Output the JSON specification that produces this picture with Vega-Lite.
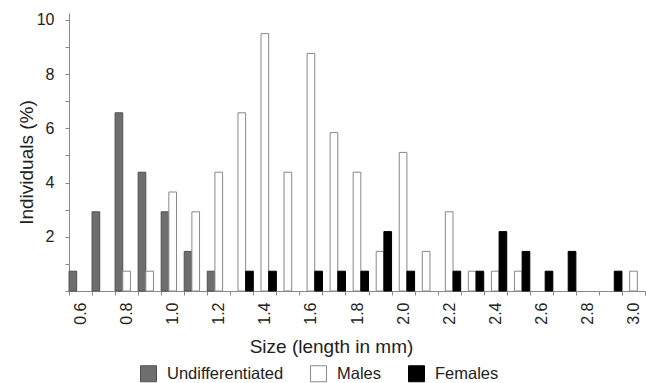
{
  "$schema": "https://vega.github.io/schema/vega-lite/v6.json",
  "autosize": "none",
  "padding": {"left": 69, "top": 13, "right": 1, "bottom": 92},
  "width": 576,
  "height": 278,
  "config": {
    "font": "Liberation Sans",
    "view": {"stroke": null},
    "axis": {"labelColor": "#222", "titleColor": "#222", "titleFontWeight": "normal", "domainColor": "#888", "tickColor": "#888", "grid": false}
  },
  "data": {
    "values": [
      {"series": "Undifferentiated", "size": "0.6", "value": 0.73},
      {"series": "Undifferentiated", "size": "0.7", "value": 2.92},
      {"series": "Undifferentiated", "size": "0.8", "value": 6.57},
      {"series": "Undifferentiated", "size": "0.9", "value": 4.38},
      {"series": "Undifferentiated", "size": "1.0", "value": 2.92},
      {"series": "Undifferentiated", "size": "1.1", "value": 1.46},
      {"series": "Undifferentiated", "size": "1.2", "value": 0.73},
      {"series": "Males", "size": "0.8", "value": 0.73},
      {"series": "Males", "size": "0.9", "value": 0.73},
      {"series": "Males", "size": "1.0", "value": 3.65},
      {"series": "Males", "size": "1.1", "value": 2.92},
      {"series": "Males", "size": "1.2", "value": 4.38},
      {"series": "Males", "size": "1.3", "value": 6.57},
      {"series": "Males", "size": "1.4", "value": 9.49},
      {"series": "Males", "size": "1.5", "value": 4.38},
      {"series": "Males", "size": "1.6", "value": 8.76},
      {"series": "Males", "size": "1.7", "value": 5.84},
      {"series": "Males", "size": "1.8", "value": 4.38},
      {"series": "Males", "size": "1.9", "value": 1.46},
      {"series": "Males", "size": "2.0", "value": 5.11},
      {"series": "Males", "size": "2.1", "value": 1.46},
      {"series": "Males", "size": "2.2", "value": 2.92},
      {"series": "Males", "size": "2.3", "value": 0.73},
      {"series": "Males", "size": "2.4", "value": 0.73},
      {"series": "Males", "size": "2.5", "value": 0.73},
      {"series": "Males", "size": "3.0", "value": 0.73},
      {"series": "Females", "size": "1.3", "value": 0.73},
      {"series": "Females", "size": "1.4", "value": 0.73},
      {"series": "Females", "size": "1.6", "value": 0.73},
      {"series": "Females", "size": "1.7", "value": 0.73},
      {"series": "Females", "size": "1.8", "value": 0.73},
      {"series": "Females", "size": "1.9", "value": 2.19},
      {"series": "Females", "size": "2.0", "value": 0.73},
      {"series": "Females", "size": "2.2", "value": 0.73},
      {"series": "Females", "size": "2.3", "value": 0.73},
      {"series": "Females", "size": "2.4", "value": 2.19},
      {"series": "Females", "size": "2.5", "value": 1.46},
      {"series": "Females", "size": "2.6", "value": 0.73},
      {"series": "Females", "size": "2.7", "value": 1.46},
      {"series": "Females", "size": "2.9", "value": 0.73}
    ]
  },
  "mark": {"type": "bar", "strokeWidth": 1},
  "encoding": {
    "x": {
      "field": "size",
      "type": "nominal",
      "scale": {
        "domain": ["0.6","0.7","0.8","0.9","1.0","1.1","1.2","1.3","1.4","1.5","1.6","1.7","1.8","1.9","2.0","2.1","2.2","2.3","2.4","2.5","2.6","2.7","2.8","2.9","3.0"],
        "paddingInner": 0,
        "paddingOuter": 0
      },
      "axis": {
        "title": "Size (length in mm)",
        "titleFontSize": 19,
        "titleX": 262,
        "titleY": 61,
        "titleBaseline": "alphabetic",
        "titleAlign": "center",
        "tickBand": "extent",
        "tickSize": 4,
        "labelAngle": -90,
        "labelAlign": "right",
        "labelBaseline": "middle",
        "labelFontSize": 16,
        "labelPadding": 7,
        "labelExpr": "round(toNumber(datum.value) * 10) % 2 == 0 ? datum.label : ''"
      }
    },
    "xOffset": {
      "field": "series",
      "type": "nominal",
      "scale": {"domain": ["Undifferentiated", "Males", "Females"], "paddingInner": 0, "paddingOuter": 0}
    },
    "y": {
      "field": "value",
      "type": "quantitative",
      "scale": {"domain": [0, 10.25], "nice": false},
      "axis": {
        "title": "Individuals (%)",
        "titleFontSize": 19,
        "titleX": -37,
        "titleY": 149,
        "titleAngle": -90,
        "titleAlign": "center",
        "titleBaseline": "alphabetic",
        "values": [0, 1, 2, 3, 4, 5, 6, 7, 8, 9, 10],
        "labelExpr": "datum.value % 2 == 0 && datum.value > 0 ? datum.label : ''",
        "tickSize": 4,
        "labelFontSize": 16,
        "labelPadding": 11
      }
    },
    "fill": {
      "field": "series",
      "type": "nominal",
      "scale": {"domain": ["Undifferentiated", "Males", "Females"], "range": ["#6e6e6e", "#ffffff", "#000000"]},
      "legend": {
        "title": null,
        "orient": "none",
        "legendX": 71,
        "legendY": 352,
        "direction": "horizontal",
        "symbolType": "square",
        "symbolSize": 256,
        "symbolStrokeWidth": 1,
        "labelFontSize": 16.5,
        "labelColor": "#222",
        "labelOffset": 10,
        "columnPadding": 24,
        "padding": 0
      }
    },
    "stroke": {
      "field": "series",
      "type": "nominal",
      "scale": {"domain": ["Undifferentiated", "Males", "Females"], "range": ["#505050", "#888888", "#000000"]},
      "legend": {
        "title": null,
        "orient": "none",
        "legendX": 71,
        "legendY": 352,
        "direction": "horizontal",
        "symbolType": "square",
        "symbolSize": 256,
        "symbolStrokeWidth": 1,
        "labelFontSize": 16.5,
        "labelColor": "#222",
        "labelOffset": 10,
        "columnPadding": 24,
        "padding": 0
      }
    }
  }
}
